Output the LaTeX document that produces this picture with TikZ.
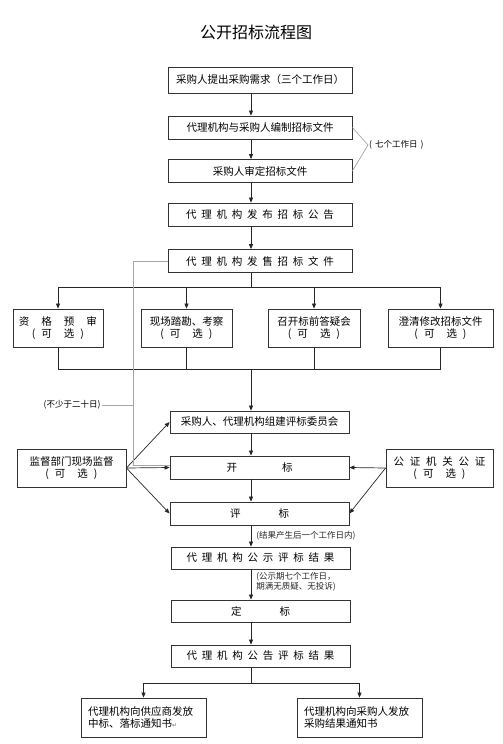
\documentclass[tikz,border=0pt]{standalone}
\usepackage{fontspec}
\setmainfont{Noto Sans CJK SC}
\newfontfamily\symfont{DejaVu Sans}
\usetikzlibrary{arrows.meta, positioning, calc}
\newcommand{\kgap}[1]{\hspace{#1pt}}

\begin{document}
\begin{tikzpicture}[
    x=1pt, y=-1pt,
    >={Triangle[length=5pt, width=4pt]},
    box/.style={draw=black!80, line width=0.8pt, inner sep=0pt,
                minimum width=184pt, minimum height=23pt,
                font=\fontsize{10.5}{12}\selectfont},
    spaced/.style={box, font=\fontsize{10.5}{12}\selectfont\addfontfeatures{LetterSpace=45}},
    optbox/.style={box, minimum height=38pt, align=center},
    note/.style={font=\fontsize{8.5}{10}\selectfont, inner sep=1pt},
    link/.style={line width=0.7pt, black!85},
    flow/.style={link, ->},
    aux/.style={line width=0.7pt, black!35}
]
\useasboundingbox (0,0) rectangle (503,744);
\coordinate (spine) at (251,0);

\node[font=\fontsize{16}{18}\selectfont] (title) at (256,32) {公开招标流程图};

% ---- preparation ----
\node[box, minimum height=26pt] (b1) at (260,80) {采购人提出采购需求（三个工作日）};
\node[box] (b2) at (260,127.5) {代理机构与采购人编制招标文件};
\node[box] (b3) at (260,171) {采购人审定招标文件};
\node[spaced] (b4) at (260,214.5) {代理机构发布招标公告};
\node[spaced] (b5) at (260,261) {代理机构发售招标文件};

\foreach \s/\t in {b1/b2, b2/b3, b3/b4, b4/b5}
  \draw[flow] (\s.south -| spine) -- (\t.north -| spine);

\coordinate (v7) at (368,145);
\draw[aux] (b2.east) -- (v7) -- (b3.east);
\node[note, right] (n7) at (v7) {(\kgap{3}七个工作日\kgap{3})};

% ---- optional steps ----
\node[optbox, minimum width=90pt] (oA) at (58,328)
  {资\kgap{12}格\kgap{12}预\kgap{12}审\\(\kgap{6}可\kgap{12}选\kgap{6})};
\node[optbox, minimum width=91pt] (oB) at (186.5,328)
  {现场踏勘、考察\\(\kgap{6}可\kgap{12}选\kgap{6})};
\node[optbox, minimum width=92pt] (oC) at (314,328)
  {召开标前答疑会\\(\kgap{6}可\kgap{12}选\kgap{6})};
\node[optbox, minimum width=105pt] (oD) at (440.5,328)
  {澄清修改招标文件\\(\kgap{6}可\kgap{12}选\kgap{6})};

\coordinate (top4) at (251,287);
\coordinate (bot4) at (251,369);
\draw[link] (b5.south -| spine) -- (top4);
\draw[link] (oA.north |- top4) -- (oD.north |- top4);
\draw[link] (oA.south |- bot4) -- (oD.south |- bot4);
\foreach \o in {oA, oB, oC, oD}{%
  \draw[flow] (\o.north |- top4) -- (\o.north);
  \draw[link] (\o.south) -- (\o.south |- bot4);
}

% ---- bid opening ----
\node[box, minimum width=179pt, minimum height=22pt] (c1) at (259.5,422) {采购人、代理机构组建评标委员会};
\node[box, minimum width=179pt] (c2) at (259.5,467.5) {开\kgap{45}标};
\node[box, minimum width=179pt] (c3) at (259.5,513.5) {评\kgap{38}标};
\node[optbox, minimum width=109pt] (jd) at (71.5,468)
  {监督部门现场监督\\(\kgap{6}可\kgap{12}选\kgap{6})};
\node[optbox, minimum width=107pt, font=\fontsize{10.5}{12}\selectfont\addfontfeatures{LetterSpace=55}] (gz) at (439.5,468)
  {公证机关公证\\\addfontfeatures{LetterSpace=0}(\kgap{6}可\kgap{12}选\kgap{6})};

\draw[flow] (bot4) -- (c1.north -| spine);
\draw[flow] (c1.south -| spine) -- (c2.north -| spine);
\draw[flow] (c2.south -| spine) -- (c3.north -| spine);
\foreach \t in {c1, c2, c3}
  \draw[flow] (jd.east) -- (\t.west);
\draw[flow] (gz.west) -- (c2.east);
\draw[flow] (gz.west) -- (c3.east);

% ---- twenty days bracket ----
\coordinate (c20) at (133,465);
\draw[aux] (b5.west) -| (c20) -- (c20 -| c2.west);
\node[note] (n20) at (72,405) {(不少于二十日)};
\draw[aux] (n20.east) -- (n20.east -| c20);

% ---- results ----
\node[box, minimum width=179pt, minimum height=22pt] (d1) at (260.5,558)
  {\addfontfeatures{LetterSpace=45}代理机构公示评标结果};
\node[box, minimum width=179pt, minimum height=22pt] (d2) at (260.5,611) {定\kgap{38}标};
\node[box, minimum width=179pt, minimum height=22pt] (d3) at (260.5,656)
  {\addfontfeatures{LetterSpace=45}代理机构公告评标结果};

\draw[flow] (c3.south -| spine) -- node[note, right=4pt] {(结果产生后一个工作日内)} (d1.north -| spine);
\draw[flow] (d1.south -| spine) -- node[note, right=4pt, align=left, yshift=3pt]
  {(公示期七个工作日，\\期满无质疑、无投诉)} (d2.north -| spine);
\draw[flow] (d2.south -| spine) -- (d3.north -| spine);

% ---- notices ----
\node[box, minimum width=125pt, minimum height=39pt, text width=111pt, align=left] (e1) at (143.5,717.5)
  {代理机构向供应商发放\\中标、落标通知书{\symfont\fontsize{6}{6}\selectfont\color{black!60}↵}};
\node[box, minimum width=125pt, minimum height=39pt, text width=111pt, align=left] (e2) at (359.5,717.5)
  {代理机构向采购人发放\\采购结果通知书};

\coordinate (split) at (251,683);
\draw[link] (d3.south -| spine) -- (split);
\draw[link] (e1.north |- split) -- (e2.north |- split);
\foreach \e in {e1, e2}
  \draw[flow] (\e.north |- split) -- (\e.north);
\end{tikzpicture}
\end{document}
